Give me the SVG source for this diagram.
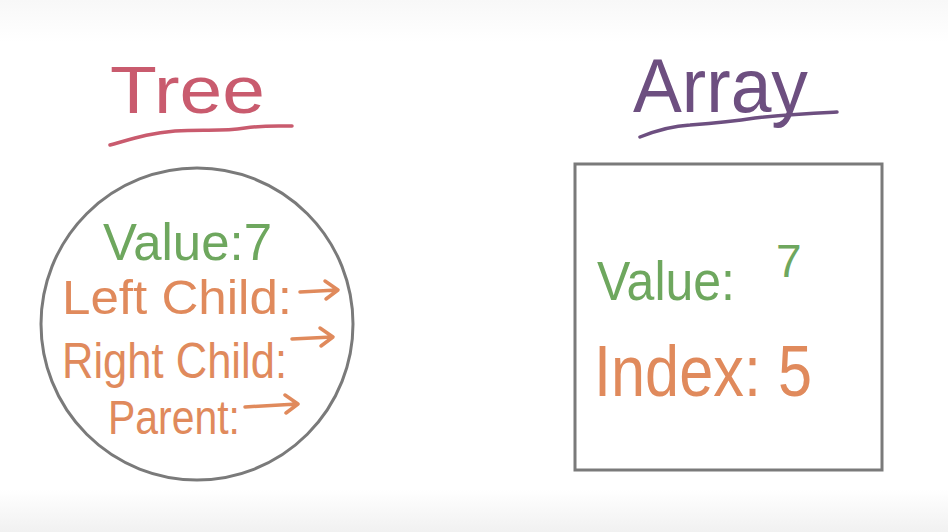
<svg xmlns="http://www.w3.org/2000/svg" width="948" height="532" viewBox="0 0 948 532">
  <defs>
    <linearGradient id="bg" x1="0" y1="0" x2="0" y2="1">
      <stop offset="0" stop-color="#f8f8f8"/>
      <stop offset="0.08" stop-color="#ffffff"/>
      <stop offset="0.92" stop-color="#ffffff"/>
      <stop offset="1" stop-color="#f1f1f1"/>
    </linearGradient>
    <style>
      .hand { font-family: "Liberation Sans", "DejaVu Sans", sans-serif; font-weight: normal; }
      .pink { fill: #c95b6e; }
      .purple { fill: #6d4f80; }
      .green { fill: #6ea75e; }
      .orange { fill: #e08a5c; }
      .line { fill: none; stroke-width: 3.5; stroke-linecap: round; stroke-linejoin: round; }
      .shape { fill: none; stroke: #7a7a7a; stroke-width: 3; }
    </style>
  </defs>
  <rect x="0" y="0" width="948" height="532" fill="url(#bg)"/>

  <g id="tree-title">
    <text class="hand pink" x="110" y="113" font-size="66" textLength="155" lengthAdjust="spacingAndGlyphs">Tree</text>
    <path class="line" stroke="#c95b6e" d="M110,145 C135,138 150,133 175,131 C205,129 220,132 245,128 C265,125 280,126 292,126"/>
  </g>

  <g id="array-title">
    <text class="hand purple" x="633" y="112" font-size="76" textLength="175" lengthAdjust="spacingAndGlyphs">Array</text>
    <path class="line" stroke="#6d4f80" d="M640,137 C655,131 670,126 690,125 C715,123 735,121 755,118 C790,114 815,113 837,112"/>
  </g>

  <g id="tree-node">
    <circle class="shape" cx="197" cy="324" r="156"/>
    <text class="hand green" x="103" y="260" font-size="52" textLength="169" lengthAdjust="spacingAndGlyphs">Value:7</text>
    <text class="hand orange" x="62" y="314" font-size="48" textLength="230" lengthAdjust="spacingAndGlyphs">Left Child:</text>
    <text class="hand orange" x="62" y="378" font-size="50" textLength="225" lengthAdjust="spacingAndGlyphs">Right Child:</text>
    <text class="hand orange" x="108" y="434" font-size="48" textLength="132" lengthAdjust="spacingAndGlyphs">Parent:</text>
    <g class="line" stroke="#e08a5c">
      <path d="M300,292 L337,290 M325,281 L338,290 L326,299"/>
      <path d="M292,339 L332,337 M320,328 L333,337 L321,346"/>
      <path d="M245,407 L297,404 M285,395 L298,404 L286,413"/>
    </g>
  </g>

  <g id="array-node">
    <rect class="shape" x="575" y="164" width="307" height="306"/>
    <text class="hand green" x="597" y="300" font-size="56" textLength="138" lengthAdjust="spacingAndGlyphs">Value:</text>
    <text class="hand green" x="776" y="277" font-size="46">7</text>
    <text class="hand orange" x="594" y="396" font-size="72" textLength="218" lengthAdjust="spacingAndGlyphs">Index: 5</text>
  </g>
</svg>
